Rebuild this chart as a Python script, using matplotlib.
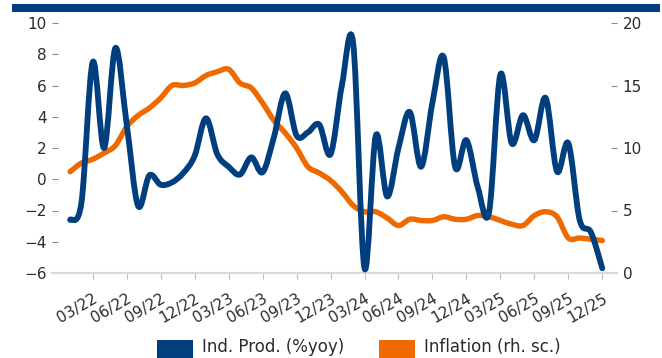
import matplotlib
matplotlib.use("Agg")
import matplotlib.pyplot as plt
from matplotlib.path import Path
from matplotlib.patches import PathPatch, Rectangle
import numpy as np

BLUE = "#003e7e"
ORANGE = "#ee6a00"
TEXT = "#2b2b2b"

# Monthly observations, Jan 2022 - Dec 2025
months = np.arange(48)
tick_labels = ["03/22", "06/22", "09/22", "12/22", "03/23", "06/23", "09/23", "12/23",
               "03/24", "06/24", "09/24", "12/24", "03/25", "06/25", "09/25", "12/25"]
tick_pos = np.arange(2, 48, 3)

ind_prod = [-2.6, -1.5, 7.5, 2.0, 8.4, 3.5, -1.7, 0.25, -0.35, -0.2, 0.4, 1.5,
            3.9, 1.6, 0.8, 0.3, 1.4, 0.45, 2.7, 5.5, 2.8, 3.0, 3.5, 1.6,
            6.0, 8.7, -5.7, 2.8, -1.1, 2.0, 4.3, 0.8, 4.9, 7.8, 0.8, 2.5,
            -0.5, -2.1, 6.7, 2.3, 4.1, 2.5, 5.2, 0.5, 2.3, -2.6, -3.4, -5.7]

inflation = [8.1, 8.8, 9.1, 9.6, 10.2, 11.7, 12.6, 13.2, 14.0, 15.0, 15.0, 15.2,
             15.8, 16.1, 16.3, 15.2, 14.8, 13.6, 12.2, 11.2, 10.0, 8.5, 8.0, 7.4,
             6.5, 5.4, 4.9, 4.9, 4.4, 3.8, 4.3, 4.2, 4.2, 4.5, 4.3, 4.3,
             4.6, 4.5, 4.2, 3.9, 3.8, 4.6, 4.9, 4.5, 2.8, 2.8, 2.7, 2.6]


def smooth_path(x, y):
    """Catmull-Rom curve through the points, as cubic Bezier segments."""
    pts = np.column_stack([x, y]).astype(float)
    ext = np.vstack([pts[0], pts, pts[-1]])
    verts = [pts[0]]
    codes = [Path.MOVETO]
    for i in range(len(pts) - 1):
        p0, p1, p2, p3 = ext[i], ext[i + 1], ext[i + 2], ext[i + 3]
        verts += [p1 + (p2 - p0) / 6, p2 - (p3 - p1) / 6, p2]
        codes += [Path.CURVE4] * 3
    return Path(verts, codes)


fig = plt.figure(figsize=(6.62, 3.58), dpi=100)
ax = fig.add_axes([52 / 662, 85 / 358, 565 / 662, 250 / 358])
ax2 = ax.twinx()

ax.add_patch(PathPatch(smooth_path(months, ind_prod), fill=False, edgecolor=BLUE,
                       lw=4.2, capstyle="round", joinstyle="round", clip_on=False, zorder=3))
ax2.add_patch(PathPatch(smooth_path(months, inflation), fill=False, edgecolor=ORANGE,
                        lw=3.9, capstyle="round", joinstyle="round", clip_on=False, zorder=2))
ax.set_zorder(ax2.get_zorder() + 1)
ax.patch.set_visible(False)

ax.set_xlim(-1.6, 48.3)
ax.set_ylim(-6, 10)
ax2.set_ylim(0, 20)
ax.set_yticks(np.arange(-6, 11, 2))
ax2.set_yticks(np.arange(0, 21, 5))
ax.set_xticks(tick_pos)
ax.set_xticklabels(tick_labels, rotation=30, ha="right", va="top", rotation_mode="anchor")

for a in (ax, ax2):
    for s in a.spines.values():
        s.set_visible(False)
ax.spines["bottom"].set_visible(True)
ax.spines["bottom"].set_color("#d9d9d9")
ax.spines["bottom"].set_linewidth(1.5)

ax.tick_params(axis="y", direction="in", length=4, color="#8c8c8c", labelsize=11,
               labelcolor=TEXT, pad=4)
ax2.tick_params(axis="y", direction="in", length=4, color="#8c8c8c", labelsize=11,
                labelcolor=TEXT, pad=4)
ax.tick_params(axis="x", direction="out", length=4, color="#bfbfbf", labelsize=11,
               labelcolor=TEXT, pad=9)

# banner strip along the top
fig.add_artist(Rectangle((12 / 662, 346 / 358), 648 / 662, 8 / 358,
                         transform=fig.transFigure, color=BLUE, lw=0))

# legend along the bottom edge
for x0, color, label in [(157, BLUE, "Ind. Prod. (%yoy)"),
                         (379, ORANGE, "Inflation (rh. sc.)")]:
    fig.add_artist(Rectangle((x0 / 662, -4 / 358), 36 / 662, 22 / 358,
                             transform=fig.transFigure, color=color, lw=0))
    fig.text((x0 + 45) / 662, 6 / 358, label, fontsize=12, color=TEXT,
             ha="left", va="baseline")

fig.savefig("out.png", dpi=100)
